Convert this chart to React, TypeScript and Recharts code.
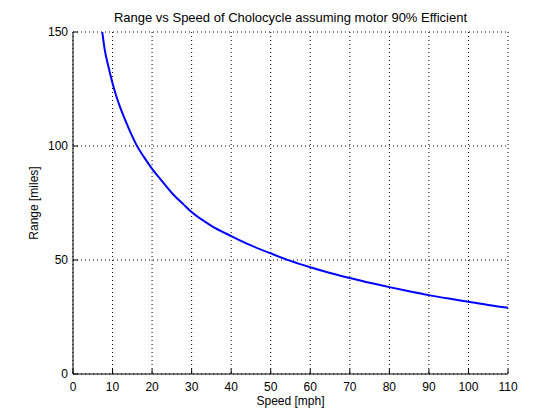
import React from "react";
import { LineChart, Line, XAxis, YAxis, CartesianGrid } from "recharts";

// values
const speeds = [7.4, 8, 9, 10, 11, 12, 13, 14, 15, 16, 18, 20, 22, 25, 28, 30, 35, 40, 45, 50, 55, 60, 65, 70, 75, 80, 85, 90, 95, 100, 105, 110];
const ranges = [150, 142.5, 134.5, 127.5, 121.6, 116.6, 112.2, 108.1, 104.2, 100.6, 95, 90, 85.7, 79.4, 74.3, 71, 65, 60.5, 56.4, 52.9, 49.6, 46.8, 44.3, 42.1, 40, 38.1, 36.3, 34.6, 33.1, 31.7, 30.3, 29.1];

const xTicks = [0, 10, 20, 30, 40, 50, 60, 70, 80, 90, 100, 110];
const yTicks = [0, 50, 100, 150];

const data = speeds.map((s, i) => ({ speed: s, range: ranges[i] }));

const font = '"Liberation Sans", Arial, Helvetica, sans-serif';
const tickStyle = { fill: "#000", fontSize: 12, fontFamily: font };

const App: React.FC = () => {
  return (
    <div style={{ position: "absolute", left: 0, top: 0, width: 560, height: 420, background: "#fff", fontFamily: font }}>
      <div
        style={{
          position: "absolute",
          left: 73,
          width: 435,
          top: 10,
          textAlign: "center",
          fontSize: 13,
          lineHeight: "15px",
          color: "#000",
        }}
      >
        Range vs Speed of Cholocycle assuming motor 90% Efficient
      </div>
      <LineChart width={560} height={420} data={data} margin={{ top: 32, right: 52, bottom: 0, left: 0 }}>
        <CartesianGrid stroke="#000" strokeDasharray="1 3" />
        <XAxis
          dataKey="speed"
          type="number"
          domain={[0, 110]}
          ticks={xTicks}
          height={46}
          stroke="#000"
          tick={tickStyle}
          tickSize={-5}
          tickMargin={13}
          label={{ value: "Speed [mph]", position: "center", dy: 4, fill: "#000", fontSize: 12 }}
        />
        <XAxis
          xAxisId="top"
          orientation="top"
          dataKey="speed"
          type="number"
          domain={[0, 110]}
          ticks={xTicks}
          height={0}
          stroke="#000"
          tick={false}
          tickSize={-5}
        />
        <YAxis
          dataKey="range"
          type="number"
          domain={[0, 150]}
          ticks={yTicks}
          width={73}
          stroke="#000"
          tick={tickStyle}
          tickSize={-5}
          tickMargin={10}
          label={{ value: "Range [miles]", angle: -90, position: "center", dx: -3, fill: "#000", fontSize: 12 }}
        />
        <YAxis
          yAxisId="right"
          orientation="right"
          dataKey="range"
          type="number"
          domain={[0, 150]}
          ticks={yTicks}
          width={0}
          stroke="#000"
          tick={false}
          tickSize={-5}
        />
        <Line
          dataKey="range"
          type="monotone"
          stroke="#0000ff"
          strokeWidth={2}
          dot={false}
          isAnimationActive={false}
        />
      </LineChart>
    </div>
  );
};

export default App;
